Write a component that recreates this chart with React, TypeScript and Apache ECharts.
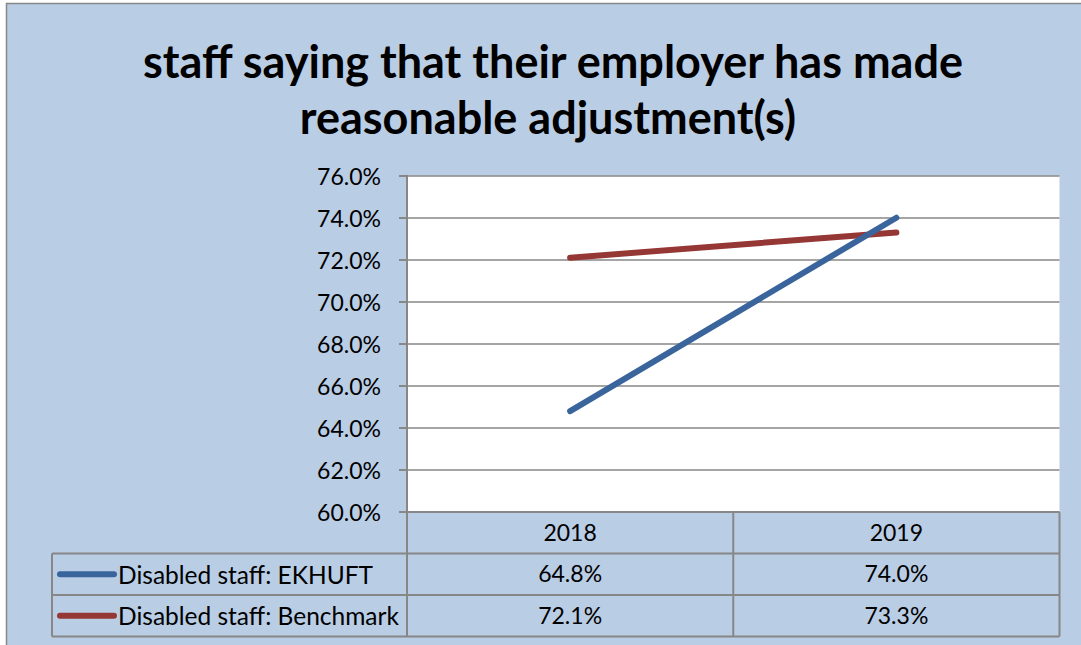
import React, { useEffect, useRef } from "react";
import * as echarts from "echarts";

const categories = ["2018", "2019"];
const seriesNames = ["Disabled staff: EKHUFT", "Disabled staff: Benchmark"];
const ekhuft = [64.8, 74.0];
const benchmark = [72.1, 73.3];
const yMin = 60;
const yMax = 76;
const yStep = 2;
const titleLines = ["staff saying that their employer has made", "reasonable adjustment(s)"];

const W = 1081;
const H = 645;
const PL = 407;
const PR = 1059.5;
const PT = 175.7;
const PB = 512;
const ROW = 41.5;
const TL = 52;
const BORDER = "#878787";
const BG = "#B9CDE5";
const COLORS = ["#3A659C", "#953735"];
const FONT = "Lato";

const fmt = (v: number) => v.toFixed(1) + "%";

export default function App() {
  const ref = useRef<HTMLDivElement>(null);
  useEffect(() => {
    if (!ref.current) return;
    const chart = echarts.init(ref.current, undefined, { renderer: "svg" });
    const rowsData = [ekhuft, benchmark];
    const midX = (PL + PR) / 2;
    const graphics: any[] = [
      {
        type: "rect",
        z: -100,
        shape: { x: 6.5, y: 3.5, width: W + 20, height: H + 20 },
        style: { fill: BG, stroke: BORDER, lineWidth: 1.5 },
      },
      {
        type: "text",
        x: 553,
        y: 61,
        style: { text: titleLines[0], font: `bold 45px ${FONT}`, fill: "#000", align: "center", verticalAlign: "middle" },
      },
      {
        type: "text",
        x: 548,
        y: 117,
        style: { text: titleLines[1], font: `bold 45px ${FONT}`, fill: "#000", align: "center", verticalAlign: "middle" },
      },
    ];
    const line = (x1: number, y1: number, x2: number, y2: number) => ({
      type: "line",
      z: 10,
      shape: { x1, y1, x2, y2 },
      style: { stroke: BORDER, lineWidth: 2 },
    });
    const bottom = PB + ROW * 3;
    graphics.push(line(PL, PB, PR, PB));
    [1, 2, 3].forEach((i) => graphics.push(line(TL, PB + ROW * i, PR, PB + ROW * i)));
    graphics.push(line(PL, PB, PL, bottom));
    graphics.push(line(midX, PB, midX, bottom));
    graphics.push(line(PR, PB, PR, bottom));
    graphics.push(line(TL, PB + ROW, TL, bottom));
    seriesNames.forEach((name, i) => {
      const cy = PB + ROW * (i + 1.5);
      graphics.push({
        type: "line",
        z: 11,
        shape: { x1: 60, y1: cy, x2: 114, y2: cy },
        style: { stroke: COLORS[i], lineWidth: 6, lineCap: "round" },
      });
      graphics.push({
        type: "text",
        z: 11,
        x: 118,
        y: cy,
        style: { text: name, font: `24.5px ${FONT}`, fill: "#000", align: "left", verticalAlign: "middle" },
      });
    });

    const xAxisBase = {
      type: "category",
      data: categories,
      position: "bottom",
      boundaryGap: true,
      axisLine: { show: false },
      axisTick: { show: false },
      splitLine: { show: false },
    };

    chart.setOption({
      animation: false,
      backgroundColor: "#ffffff",
      grid: {
        left: PL,
        right: W - PR,
        top: PT,
        bottom: H - PB,
        show: true,
        backgroundColor: "#ffffff",
        borderWidth: 0,
        containLabel: false,
      },
      xAxis: [
        {
          ...xAxisBase,
          axisLabel: { color: "#000", fontSize: 23, fontFamily: FONT, margin: 8 },
        },
        ...rowsData.map((arr, r) => ({
          ...xAxisBase,
          offset: ROW * (r + 1),
          axisLabel: {
            color: "#000",
            fontSize: 23,
            fontFamily: FONT,
            margin: 8,
            formatter: (_v: string, idx: number) => fmt(arr[idx]),
          },
        })),
      ],
      yAxis: {
        type: "value",
        min: yMin,
        max: yMax,
        interval: yStep,
        axisLine: { show: true, lineStyle: { color: BORDER, width: 2 } },
        axisTick: { show: true, length: 8, lineStyle: { color: BORDER, width: 2 } },
        axisLabel: { color: "#000", fontSize: 23, fontFamily: FONT, margin: 26, formatter: (v: number) => fmt(v) },
        splitLine: { show: true, lineStyle: { color: BORDER, width: 1.5 } },
      },
      series: [
        {
          name: seriesNames[0],
          type: "line",
          data: ekhuft,
          showSymbol: false,
          symbol: "none",
          lineStyle: { color: COLORS[0], width: 6, cap: "round" },
          z: 5,
        },
        {
          name: seriesNames[1],
          type: "line",
          data: benchmark,
          showSymbol: false,
          symbol: "none",
          lineStyle: { color: COLORS[1], width: 6, cap: "round" },
          z: 4,
        },
      ],
      graphic: graphics,
    });
    return () => chart.dispose();
  }, []);
  return (
    <div
      ref={ref}
      style={{ position: "absolute", left: 0, top: 0, width: W, height: H }}
    />
  );
}
